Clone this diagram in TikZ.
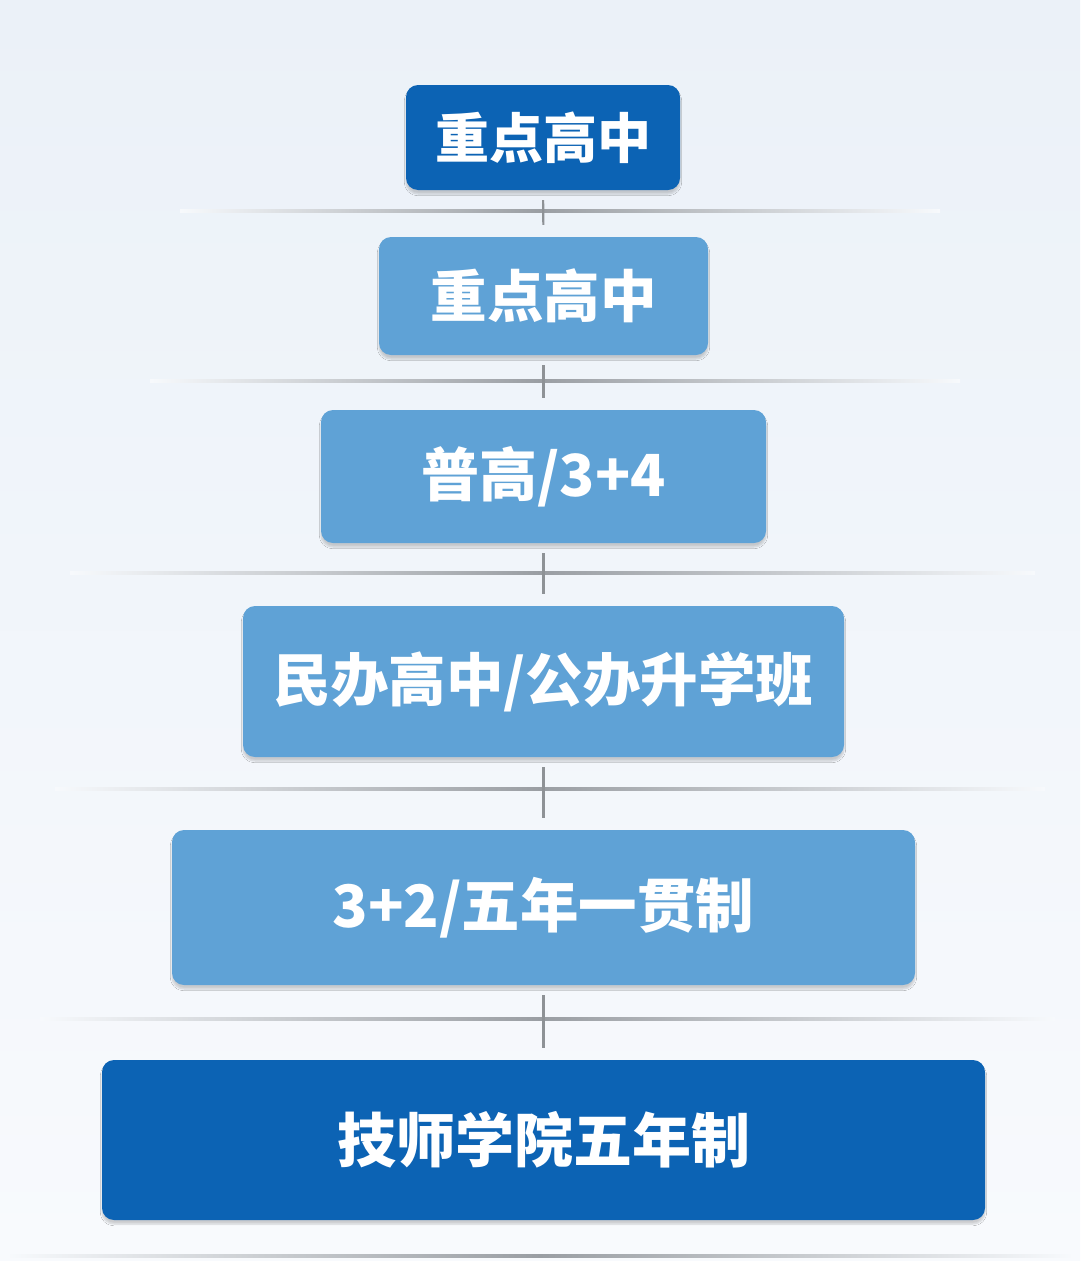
\documentclass[tikz,border=0pt]{standalone}
\usepackage{fontspec}
\newfontfamily\cjk{Noto Sans CJK SC}
\usetikzlibrary{shadows.blur}
\definecolor{bgtop}{HTML}{EBF1F8}
\definecolor{bgbot}{HTML}{F8FAFD}
\definecolor{darkbox}{HTML}{0C63B4}
\definecolor{lightbox}{HTML}{5FA2D6}
\definecolor{ruleg}{HTML}{9A9EA3}
\definecolor{tickg}{HTML}{8E9296}
\tikzset{
  tier/.style={rounded corners=12pt, inner sep=0pt, text=white,
    font=\cjk\bfseries\fontsize{#1}{#1}\selectfont,
    blur shadow={shadow xshift=0pt, shadow yshift=-4pt, shadow blur steps=6, shadow opacity=18}},
  darktier/.style={tier=#1, fill=darkbox},
  lighttier/.style={tier=#1, fill=lightbox},
  tick/.style={draw=tickg, line width=2.2pt, shorten <=10pt, shorten >=12pt},
}
\newcommand{\fadeline}[3]{%
  \shade[left color=bgtop!40!white, right color=ruleg] (#1,#3-1.3) rectangle (540,#3+1.3);
  \shade[left color=ruleg, right color=bgtop!40!white] (540,#3-1.3) rectangle (#2,#3+1.3);
}
\begin{document}
\begin{tikzpicture}[x=1pt,y=-1pt]
\useasboundingbox (0,0) rectangle (1080,1261);
\shade[top color=bgtop, bottom color=bgbot] (0,0) rectangle (1080,1261);
% horizontal rules
\fadeline{180}{940}{211}
\fadeline{150}{960}{381}
\fadeline{70}{1035}{573}
\fadeline{55}{1045}{789}
\fadeline{40}{1055}{1019}
\fadeline{10}{1070}{1256}
% boxes
\node[darktier=54, minimum width=274pt, minimum height=105pt] (b1) at (543,137.5) {重点高中};
\node[lighttier=56.5, minimum width=329pt, minimum height=118pt] (b2) at (543.5,296) {重点高中};
\node[lighttier=58, minimum width=445pt, minimum height=133pt] (b3) at (543.5,476.5) {普高/3+4};
\node[lighttier=57.5, minimum width=601pt, minimum height=151pt] (b4) at (543.5,681.5) {民办高中/公办升学班};
\node[lighttier=58.5, minimum width=743pt, minimum height=155pt] (b5) at (543.5,907.5) {3+2/五年一贯制};
\node[darktier=59, minimum width=883pt, minimum height=160pt] (b6) at (543.5,1140) {技师学院五年制};
% ticks
\draw[tick] (b1.south) -- (b2.north);
\draw[tick] (b2.south) -- (b3.north);
\draw[tick] (b3.south) -- (b4.north);
\draw[tick] (b4.south) -- (b5.north);
\draw[tick] (b5.south) -- (b6.north);
\end{tikzpicture}
\end{document}
